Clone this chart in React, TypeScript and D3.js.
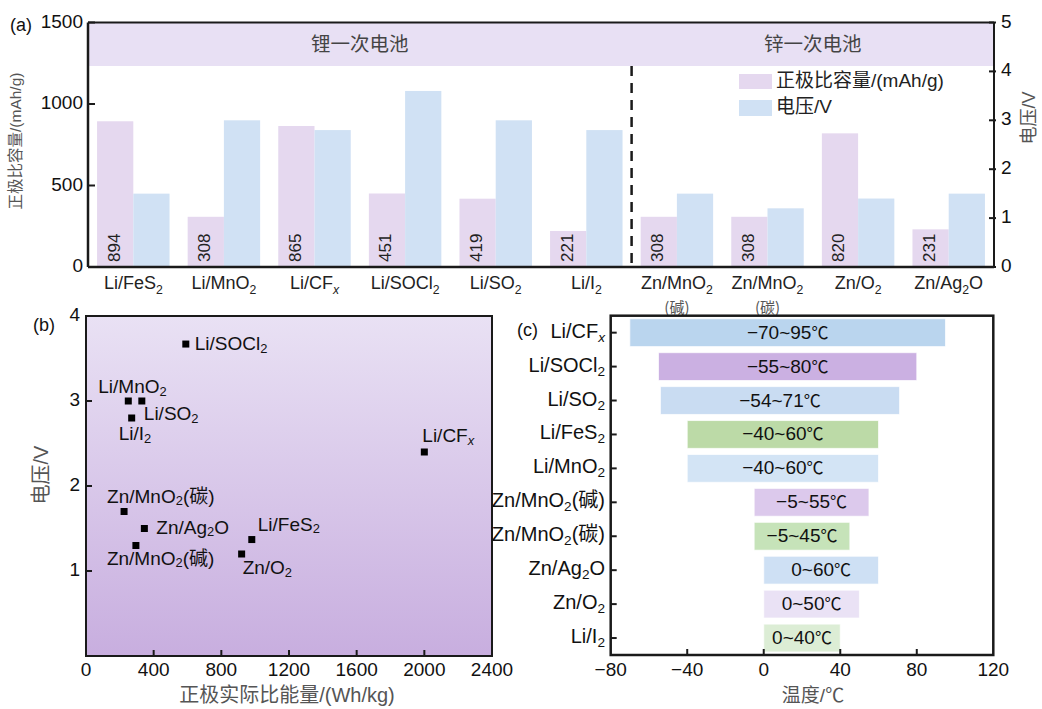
import React from "react";
import * as d3 from "d3";

// ---------- Panel (a) data ----------
const aCategories = ["Li/FeS{2}", "Li/MnO{2}", "Li/CF{x}", "Li/SOCl{2}", "Li/SO{2}", "Li/I{2}", "Zn/MnO{2}", "Zn/MnO{2}", "Zn/O{2}", "Zn/Ag{2}O"];
const aSubLabels = ["", "", "", "", "", "", "(碱)", "(碳)", "", ""];
const aCapacity = [894, 308, 865, 451, 419, 221, 308, 308, 820, 231];
const aVoltage = [1.5, 3.0, 2.8, 3.6, 3.0, 2.8, 1.5, 1.2, 1.4, 1.5];
const aLeftTicks = [0, 500, 1000, 1500];
const aRightTicks = [0, 1, 2, 3, 4, 5];
const aGroups = ["锂一次电池", "锌一次电池"];

// ---------- Panel (b) data ----------
const bNames = ["Li/SOCl{2}", "Li/MnO{2}", "Li/SO{2}", "Li/I{2}", "Li/CF{x}", "Zn/MnO{2}(碳)", "Zn/Ag{2}O", "Zn/MnO{2}(碱)", "Li/FeS{2}", "Zn/O{2}"];
const bEnergy = [590, 250, 330, 270, 2000, 225, 345, 295, 980, 920];
const bVoltage = [3.67, 3.0, 3.0, 2.8, 2.4, 1.7, 1.5, 1.3, 1.37, 1.2];
const bXTicks = [0, 400, 800, 1200, 1600, 2000, 2400];
const bYTicks = [1, 2, 3, 4];
// label offsets (layout only)
const bLabelOffsets: [number, number][] = [
  [9, 1], [-30, -13], [2, 14], [-13, 17], [-2, -15], [-17, -14], [12, 0], [-29, 14], [6, -14], [1, 15],
];

// ---------- Panel (c) data ----------
const cNames = ["Li/CF{x}", "Li/SOCl{2}", "Li/SO{2}", "Li/FeS{2}", "Li/MnO{2}", "Zn/MnO{2}(碱)", "Zn/MnO{2}(碳)", "Zn/Ag{2}O", "Zn/O{2}", "Li/I{2}"];
const cMin = [-70, -55, -54, -40, -40, -5, -5, 0, 0, 0];
const cMax = [95, 80, 71, 60, 60, 55, 45, 60, 50, 40];
const cXTicks = [-80, -40, 0, 40, 80, 120];
const cColors = ["#bad5ee", "#cbb0e2", "#c9dcf2", "#bcdaa7", "#d3e4f5", "#dcc9ec", "#c6e3b9", "#cee0f4", "#eae2f5", "#dcedd5"];

const FONT = "'Liberation Sans', Arial, 'Noto Sans CJK SC', sans-serif";
const CJK = "'Noto Sans CJK SC', 'Liberation Sans', sans-serif";
const AXIS = "#1a1a1a";

function rich(s: string, fs: number) {
  const out: any[] = [];
  const re = /\{([^}]*)\}/g;
  let last = 0;
  let m: RegExpExecArray | null;
  let shifted = false;
  let k = 0;
  while ((m = re.exec(s))) {
    if (m.index > last) {
      out.push(<tspan key={k++} dy={shifted ? -fs * 0.25 : 0}>{s.slice(last, m.index)}</tspan>);
      shifted = false;
    }
    out.push(
      <tspan key={k++} fontSize={fs * 0.68} dy={shifted ? 0 : fs * 0.25} fontStyle={m[1] === "x" ? "italic" : undefined}>
        {m[1]}
      </tspan>
    );
    shifted = true;
    last = re.lastIndex;
  }
  if (last < s.length) {
    out.push(<tspan key={k++} dy={shifted ? -fs * 0.25 : 0}>{s.slice(last)}</tspan>);
  }
  return out;
}

function PanelA() {
  const L = 88, R = 994, T = 22.5, B = 267;
  const x = d3.scaleBand<number>().domain(d3.range(aCategories.length)).range([L, R]).paddingInner(0.2).paddingOuter(0.1);
  const yL = d3.scaleLinear().domain([0, 1500]).range([B, T]);
  const yR = d3.scaleLinear().domain([0, 5]).range([B, T]);
  const bw = x.bandwidth() / 2;
  const step = x.step();
  const divX = (x(6) as number) - step * 0.1;
  const bandBottom = 66;
  return (
    <g>
      <rect x={L} y={T} width={R - L} height={bandBottom - T} fill="#e8e0f4" />
      <text x={(L + divX) / 2} y={(T + bandBottom) / 2 + 1} textAnchor="middle" dominantBaseline="middle" fontFamily={CJK} fontSize={19.5} fill="#444">{aGroups[0]}</text>
      <text x={(divX + R) / 2} y={(T + bandBottom) / 2 + 1} textAnchor="middle" dominantBaseline="middle" fontFamily={CJK} fontSize={19.5} fill="#444">{aGroups[1]}</text>
      {aCategories.map((c, i) => {
        const x0 = x(i) as number;
        return (
          <g key={i}>
            <rect x={x0} y={yL(aCapacity[i])} width={bw} height={B - yL(aCapacity[i])} fill="#e5d8ef" />
            <rect x={x0 + bw} y={yR(aVoltage[i])} width={bw} height={B - yR(aVoltage[i])} fill="#d0e1f4" />
            <text transform={`translate(${x0 + bw / 2},${B - 5}) rotate(-90)`} textAnchor="start" dominantBaseline="middle" fontSize={17} fill="#222">{aCapacity[i]}</text>
            <text x={x0 + bw} y={289} textAnchor="middle" fontSize={18} fill="#222">{rich(c, 18)}</text>
            {aSubLabels[i] && <text x={x0 + bw} y={313} textAnchor="middle" fontFamily={CJK} fontSize={15} fill="#555">{aSubLabels[i]}</text>}
          </g>
        );
      })}
      <line x1={divX} x2={divX} y1={bandBottom} y2={B} stroke={AXIS} strokeWidth={2.5} strokeDasharray="10,7" />
      {/* legend */}
      <rect x={739} y={74} width={33} height={15} fill="#e5d8ef" />
      <text x={776} y={82} dominantBaseline="middle" fontSize={19} fill="#222">正极比容量/(mAh/g)</text>
      <rect x={739} y={100} width={33} height={16} fill="#d0e1f4" />
      <text x={776} y={108} dominantBaseline="middle" fontSize={19} fill="#222">电压/V</text>
      {/* axes */}
      <line x1={L} x2={R} y1={T} y2={T} stroke={AXIS} strokeWidth={2} />
      <line x1={L} x2={R} y1={B} y2={B} stroke={AXIS} strokeWidth={2.5} />
      <line x1={L} x2={L} y1={T} y2={B} stroke={AXIS} strokeWidth={2.5} />
      <line x1={R} x2={R} y1={T} y2={B} stroke={AXIS} strokeWidth={2} />
      {aLeftTicks.map((t) => (
        <g key={t}>
          <line x1={L} x2={L + 7} y1={yL(t)} y2={yL(t)} stroke={AXIS} strokeWidth={2} />
          <text x={83} y={yL(t)} textAnchor="end" dominantBaseline="middle" fontSize={19} fill="#111">{t}</text>
        </g>
      ))}
      {aRightTicks.map((t) => (
        <g key={t}>
          <line x1={R - 5} x2={R + 2} y1={yR(t)} y2={yR(t)} stroke={AXIS} strokeWidth={2} />
          <text x={1001} y={yR(t)} textAnchor="start" dominantBaseline="middle" fontSize={19} fill="#111">{t}</text>
        </g>
      ))}
      <text transform={`translate(17,141) rotate(-90)`} textAnchor="middle" dominantBaseline="middle" fontSize={15.5} fill="#555">正极比容量/(mAh/g)</text>
      <text transform={`translate(1030,118) rotate(-90)`} textAnchor="middle" dominantBaseline="middle" fontSize={18} fill="#555">电压/V</text>
      <text x={10} y={26} dominantBaseline="middle" fontSize={18} fill="#111">(a)</text>
    </g>
  );
}

function PanelB() {
  const L = 86, R = 492, T = 316, B = 656;
  const x = d3.scaleLinear().domain([0, 2400]).range([L, R]);
  const y = d3.scaleLinear().domain([0, 4]).range([B, T]);
  return (
    <g>
      <defs>
        <linearGradient id="bgB" x1="0" y1="0" x2="0" y2="1">
          <stop offset="0" stopColor="#e9e1f4" />
          <stop offset="1" stopColor="#c8aedf" />
        </linearGradient>
      </defs>
      <rect x={L} y={T} width={R - L} height={B - T} fill="url(#bgB)" stroke={AXIS} strokeWidth={2} />
      {bXTicks.map((t) => (
        <g key={t}>
          {t > 0 && t < 2400 && <line x1={x(t)} x2={x(t)} y1={B} y2={B - 6} stroke={AXIS} strokeWidth={2} />}
          <text x={x(t)} y={671} textAnchor="middle" dominantBaseline="middle" fontSize={19} fill="#111">{t}</text>
        </g>
      ))}
      {bYTicks.map((t) => (
        <g key={t}>
          {t < 4 && <line x1={L} x2={L + 6} y1={y(t)} y2={y(t)} stroke={AXIS} strokeWidth={2} />}
          <text x={80} y={y(t)} textAnchor="end" dominantBaseline="middle" fontSize={19} fill="#111">{t}</text>
        </g>
      ))}
      {bNames.map((n, i) => {
        const px = x(bEnergy[i]);
        const py = y(bVoltage[i]);
        const [dx, dy] = bLabelOffsets[i];
        return (
          <g key={i}>
            <rect x={px - 3.5} y={py - 3.5} width={7} height={7} fill="#000" />
            <text x={px + dx} y={py + dy} dominantBaseline="middle" fontSize={19} fill="#111">{rich(n, 19)}</text>
          </g>
        );
      })}
      <text transform={`translate(43,475) rotate(-90)`} textAnchor="middle" dominantBaseline="middle" fontSize={20} fill="#555">电压/V</text>
      <text x={287} y={697} textAnchor="middle" dominantBaseline="middle" fontSize={20} fill="#555">正极实际比能量/(Wh/kg)</text>
      <text x={33} y={326} dominantBaseline="middle" fontSize={18} fill="#111">(b)</text>
    </g>
  );
}

function PanelC() {
  const L = 610.7, R = 993.3, T = 315.7, B = 655;
  const x = d3.scaleLinear().domain([-80, 120]).range([L, R]);
  const y = d3.scaleBand<string>().domain(cNames).range([T, B]).paddingInner(0.18).paddingOuter(0.09);
  const bh = y.bandwidth();
  const fmt = (v: number) => (v < 0 ? "\u2212" + Math.abs(v) : String(v));
  return (
    <g>
      {cNames.map((n, i) => {
        const y0 = y(n) as number;
        const cx = (x(cMin[i]) + x(cMax[i])) / 2;
        return (
          <g key={i}>
            <rect x={x(cMin[i])} y={y0} width={x(cMax[i]) - x(cMin[i])} height={bh} fill={cColors[i]} stroke="#fff" strokeOpacity={0.7} strokeWidth={1} />
            <text x={cx} y={y0 + bh / 2 + 1} textAnchor="middle" dominantBaseline="middle" fontSize={19} fill="#111">
              {fmt(cMin[i])}~{cMax[i]}
              <tspan fontFamily={CJK} fontSize={17}>℃</tspan>
            </text>
            <line x1={L} x2={L + 6} y1={y0 + bh / 2} y2={y0 + bh / 2} stroke={AXIS} strokeWidth={2} />
            <text x={605} y={y0 + bh / 2} textAnchor="end" dominantBaseline="middle" fontSize={20} fill="#111">{rich(n, 20)}</text>
          </g>
        );
      })}
      <rect x={L} y={T} width={R - L} height={B - T} fill="none" stroke={AXIS} strokeWidth={2.5} />
      {cXTicks.map((t) => (
        <g key={t}>
          {t > -80 && t < 120 && <line x1={x(t)} x2={x(t)} y1={B} y2={B - 6} stroke={AXIS} strokeWidth={2} />}
          <text x={x(t)} y={671} textAnchor="middle" dominantBaseline="middle" fontSize={19} fill="#111">{fmt(t)}</text>
        </g>
      ))}
      <text x={813} y={697} textAnchor="middle" dominantBaseline="middle" fontSize={19} fill="#555">温度/℃</text>
      <text x={517} y={331} dominantBaseline="middle" fontSize={18} fill="#111">(c)</text>
    </g>
  );
}

export default function App() {
  return (
    <svg width={1042} height={709} viewBox="0 0 1042 709" style={{ position: "absolute", left: 0, top: 0, background: "#fff" }} fontFamily={FONT}>
      <rect width={1042} height={709} fill="#fff" />
      <PanelA />
      <PanelB />
      <PanelC />
    </svg>
  );
}
